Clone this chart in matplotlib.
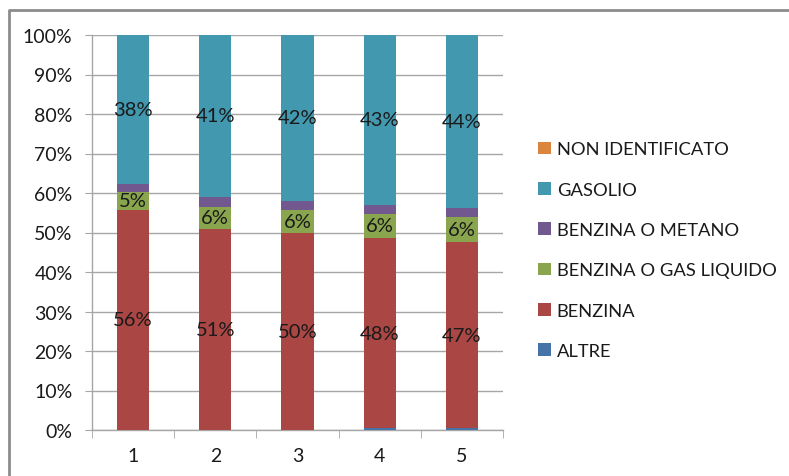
import matplotlib
matplotlib.use("Agg")
import matplotlib.pyplot as plt
from matplotlib.lines import Line2D
import numpy as np

plt.rcParams['font.family'] = ['Lato', 'DejaVu Sans']

categories = ["1", "2", "3", "4", "5"]
altre = [0.0, 0.0, 0.0, 0.4, 0.4]
benzina = [55.7, 50.9, 49.8, 48.3, 47.3]
benzina_gpl = [4.6, 5.6, 5.9, 6.0, 6.1]
benzina_metano = [1.9, 2.5, 2.3, 2.3, 2.4]
gasolio = [37.8, 41.0, 42.0, 43.0, 43.8]
non_identificato = [0.0, 0.0, 0.0, 0.0, 0.0]

series = [
    ("ALTRE", altre, "#4572A7", False),
    ("BENZINA", benzina, "#AA4643", True),
    ("BENZINA O GAS LIQUIDO", benzina_gpl, "#89A54E", True),
    ("BENZINA O METANO", benzina_metano, "#71588F", False),
    ("GASOLIO", gasolio, "#4198AF", True),
    ("NON IDENTIFICATO", non_identificato, "#DB843D", False),
]

W, H = 789, 477
fig = plt.figure(figsize=(W / 100, H / 100), dpi=100)
ax = fig.add_axes([92 / W, (H - 431) / H, (503 - 92) / W, (431 - 36) / H])

x = np.arange(len(categories))
bottom = np.zeros(len(categories))
handles = []
for name, vals, color, labelled in series:
    vals = np.array(vals, dtype=float)
    bars = ax.bar(x, vals, width=0.39, bottom=bottom, color=color,
                  edgecolor="none", zorder=3, label=name)
    if labelled:
        for xi, b, v in zip(x, bottom, vals):
            ax.text(xi, b + v / 2, f"{round(v):.0f}%", ha="center", va="center",
                    fontsize=14.5, color="#1a1a1a", zorder=4)
    bottom += vals
    handles.append(bars)

ax.set_xlim(-0.5, len(categories) - 0.5)
ax.set_ylim(0, 100)
ax.set_yticks(np.arange(0, 101, 10))
ax.set_yticklabels([f"{v}%" for v in range(0, 101, 10)])
ax.set_xticks(x)
ax.set_xticklabels(categories)
ax.set_xticks(np.arange(-0.5, len(categories), 1.0), minor=True)

ax.grid(axis="y", color="#a6a6a6", linewidth=1, zorder=0)
for side in ("top", "right"):
    ax.spines[side].set_visible(False)
for side in ("left", "bottom"):
    ax.spines[side].set_color("#a6a6a6")
    ax.spines[side].set_linewidth(1)

ax.tick_params(axis="y", length=5, color="#a6a6a6", labelsize=14,
               labelcolor="#1a1a1a", pad=9)
ax.tick_params(axis="x", which="major", length=0, labelsize=14,
               labelcolor="#1a1a1a", pad=12)
ax.tick_params(axis="x", which="minor", length=6, color="#a6a6a6")

leg = fig.legend(handles[::-1], [s[0] for s in series][::-1],
                 loc="upper left", bbox_to_anchor=(531 / W, 1 - 135 / H),
                 frameon=False, fontsize=13.2, handlelength=0.7,
                 handleheight=0.7, handletextpad=0.3,
                 labelspacing=1.33, borderaxespad=0)
for t in leg.get_texts():
    t.set_color("#1a1a1a")

# outer frame of the chart area
fig.add_artist(Line2D([8.5 / W, 8.5 / W, 1.0], [0.0, 1 - 10.5 / H, 1 - 10.5 / H],
                      transform=fig.transFigure, color="#8c8c8c", linewidth=2))

fig.savefig("out.png", dpi=100)
